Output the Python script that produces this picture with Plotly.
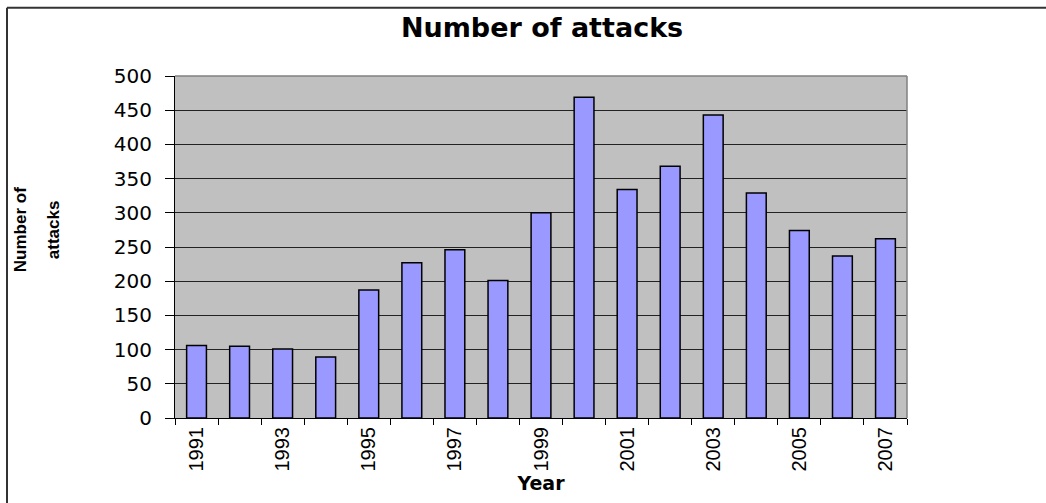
import plotly.graph_objects as go

years = list(range(1991, 2008))
attacks = [106, 105, 101, 89, 187, 227, 246, 201, 300, 469, 334, 368, 443, 329, 274, 237, 262]
label_years = [y for y in years if y % 2 == 1]
label_text = [str(y) for y in label_years]
boundaries = [y - 0.5 for y in years] + [years[-1] + 0.5]

W, H = 1046, 503
ML, MR, MT, MB = 175, 139, 76, 81
PW, PH = W - ML - MR, H - MT - MB

def px_x(x):
    return (x - ML) / PW

def px_y(y):
    return (H - MB - y) / PH

fig = go.Figure()
fig.add_trace(go.Bar(
    x=years, y=attacks,
    marker=dict(color="#9999FF", line=dict(color="black", width=1.5)),
    showlegend=False,
))

fig.update_layout(
    width=W, height=H,
    margin=dict(l=ML, r=MR, t=MT, b=MB, pad=0),
    paper_bgcolor="white",
    plot_bgcolor="#C0C0C0",
    bargap=0.54,
    title=dict(text="<b>Number of attacks</b>", x=0.5014, xref="paper", xanchor="center",
               y=1 - 28 / H, yref="container", yanchor="middle",
               font=dict(family="DejaVu Sans", size=27, color="black")),
    xaxis=dict(
        range=[years[0] - 0.5, years[-1] + 0.5],
        tickmode="array", tickvals=label_years, ticktext=label_text,
        tickangle=-90, ticks="", showgrid=False, zeroline=False,
        showline=True, linecolor="black", linewidth=1,
        tickfont=dict(family="Liberation Sans, Arial", size=20, color="black"),
        minor=dict(tickmode="array", tickvals=boundaries, ticks="outside",
                   ticklen=6, tickwidth=1, tickcolor="black", showgrid=False),
        title=dict(text="<b>Year</b>", standoff=6,
                   font=dict(family="DejaVu Sans", size=19, color="black")),
        fixedrange=True,
    ),
    yaxis=dict(
        range=[0, 500], tickmode="linear", tick0=0, dtick=50,
        ticks="outside", ticklen=9, tickcolor="black", tickwidth=1,
        ticklabelstandoff=9,
        showgrid=True, gridcolor="#222222", gridwidth=1,
        zeroline=False, showline=True, linecolor="black", linewidth=1,
        tickfont=dict(family="DejaVu Sans", size=20, color="black"),
        fixedrange=True,
    ),
    shapes=[
        dict(type="line", xref="paper", yref="paper", x0=0, x1=1, y0=1, y1=1,
             line=dict(color="#808080", width=1.5)),
        dict(type="line", xref="paper", yref="paper", x0=1, x1=1, y0=0, y1=1,
             line=dict(color="#808080", width=1.5)),
        dict(type="line", xref="paper", yref="paper", x0=px_x(7), x1=px_x(W + 5),
             y0=px_y(7), y1=px_y(7), line=dict(color="#333333", width=2)),
        dict(type="line", xref="paper", yref="paper", x0=px_x(7), x1=px_x(7),
             y0=px_y(7), y1=px_y(H + 5), line=dict(color="#333333", width=2)),
    ],
    annotations=[
        dict(text="<b>Number of</b>", xref="paper", yref="paper", x=px_x(20), y=px_y(232),
             xanchor="center", yanchor="middle", textangle=-90, showarrow=False,
             font=dict(family="Liberation Sans, Arial", size=17, color="black")),
        dict(text="<b>attacks</b>", xref="paper", yref="paper", x=px_x(53), y=px_y(232),
             xanchor="center", yanchor="middle", textangle=-90, showarrow=False,
             font=dict(family="Liberation Sans, Arial", size=17, color="black")),
    ],
)

fig.write_html("out.html", config={"displayModeBar": False},
               post_script="document.body.style.margin='0';document.body.style.overflow='hidden';")
